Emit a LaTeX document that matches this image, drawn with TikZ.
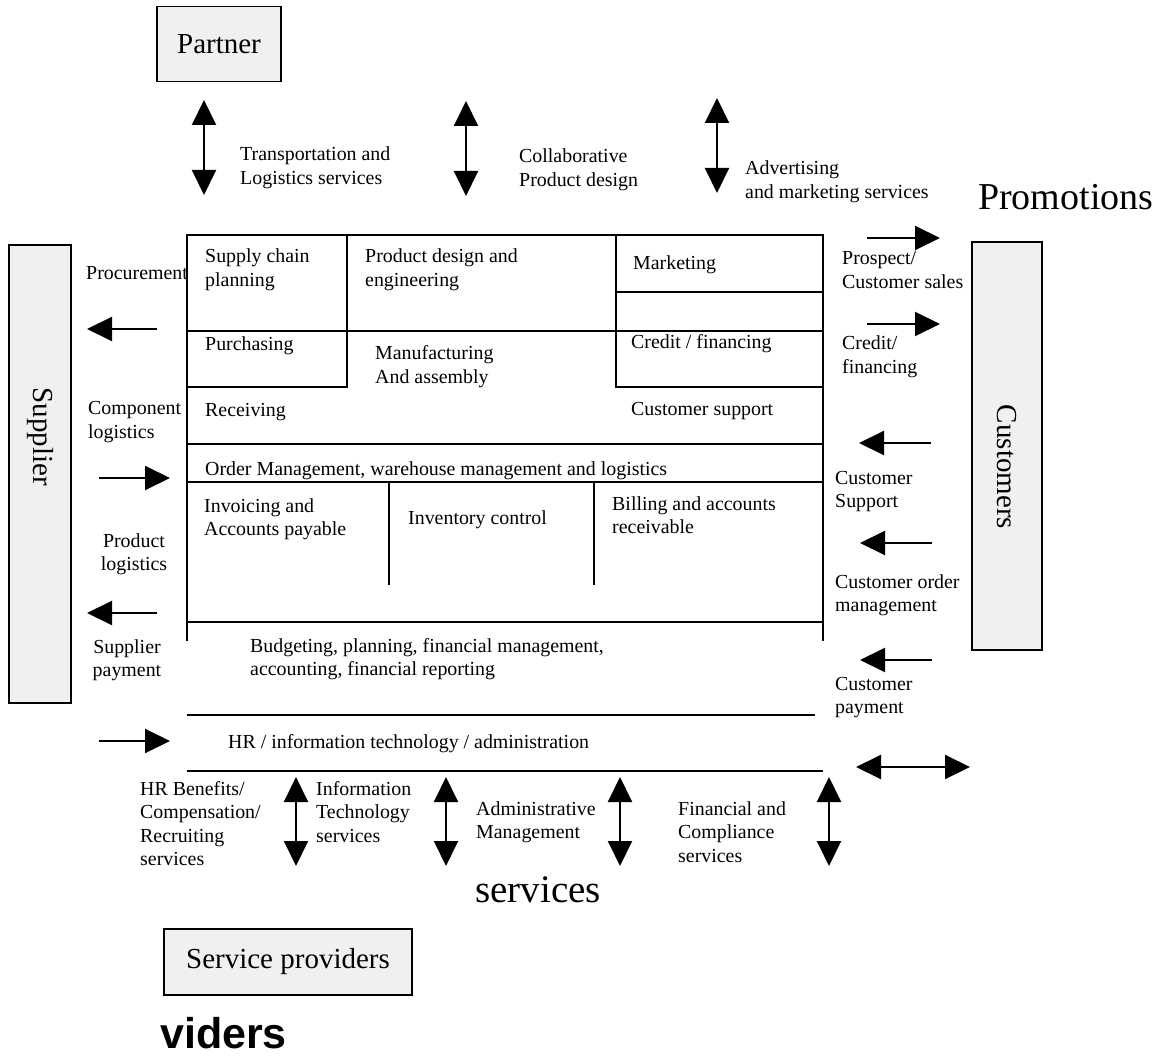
\documentclass[tikz,border=0pt]{standalone}
\usepackage{fontspec}
\setmainfont{Liberation Serif}
\newfontfamily\headsans{Liberation Sans}
\usetikzlibrary{arrows.meta}

% Multi-line text nodes sit on the baseline of their last line.
\tikzset{
  Fat/.tip={Triangle[length=25pt,width=24pt]},
  txt/.style={font=\fontsize{19.9}{23.5}\selectfont, align=left, inner sep=0pt, anchor=base west},
  ctxt/.style={txt, align=center, anchor=base},
  party/.style={draw, line width=1.6pt, fill=black!6, inner sep=0pt},
  partylabel/.style={font=\fontsize{29}{34}\selectfont, inner sep=0pt},
  grid/.style={line width=1.6pt},
  flow/.style={line width=2pt, -Fat},
  both/.style={line width=2pt, Fat-Fat},
  big/.style={font=\fontsize{38}{44}\selectfont, inner sep=0pt, anchor=base west}
}

\begin{document}
\begin{tikzpicture}[x=1pt,y=-1pt]
\useasboundingbox (0,0) rectangle (1168,1064);

% ---- outside parties ----
\node[party, partylabel, minimum width=124pt, minimum height=75pt] (partner) at (219,44) {Partner};
\node[party, minimum width=62pt, minimum height=458pt] (supplier) at (40,474) {};
\node[partylabel, rotate=-90] (supplierlbl) at (40,437) {Supplier};
\node[party, minimum width=70pt, minimum height=408pt] (customers) at (1007,446) {};
\node[partylabel, rotate=-90] (customerslbl) at (1007,467) {Customers};
\node[party, partylabel, minimum width=248pt, minimum height=66pt] (provider) at (288,962) {Service providers};

\node[big] (promo) at (978,210) {Promotions};
\node[big, font=\fontsize{39}{44}\selectfont] (svc) at (475,902) {services};
\node[big, font=\headsans\bfseries\fontsize{43}{48}\selectfont] (viders) at (160,1048) {viders};

% ---- enterprise functions grid ----
\draw[grid] (187,641) -- (187,235) -- (823,235) -- (823,641);
\draw[grid] (347,235) -- (347,387) -- (187,387);
\draw[grid] (187,331) -- (823,331);
\draw[grid] (616,235) -- (616,387) -- (823,387);
\draw[grid] (616,292) -- (823,292);
\draw[grid] (187,444) -- (823,444);
\draw[grid] (187,482) -- (823,482);
\draw[grid] (389,482) -- (389,585);
\draw[grid] (594,482) -- (594,585);
\draw[grid] (187,622) -- (823,622);
\draw[grid] (187,715) -- (815,715);
\draw[grid] (187,771) -- (823,771);

\node[txt] (scp) at (205,286.5) {Supply chain\\planning};
\node[txt] (pde) at (365,286.5) {Product design and\\engineering};
\node[txt] (mkt) at (633,270) {Marketing};
\node[txt] (pur) at (205,351) {Purchasing};
\node[txt] (mfg) at (375,383.5) {Manufacturing\\And assembly};
\node[txt] (crd) at (631,349) {Credit / financing};
\node[txt] (rcv) at (205,417) {Receiving};
\node[txt] (csu) at (631,416) {Customer support};
\node[txt] (ord) at (205,476) {Order Management, warehouse management and logistics};
\node[txt] (inv) at (204,535.5) {Invoicing and\\Accounts payable};
\node[txt] (ictl) at (408,524) {Inventory control};
\node[txt] (bil) at (612,533.5) {Billing and accounts\\receivable};
\node[txt] (bud) at (250,675.5) {Budgeting, planning, financial management,\\accounting, financial reporting};
\node[txt] (hr) at (228,748) {HR / information technology / administration};

% ---- partner flows ----
\coordinate (t1a) at (204,100); \coordinate (t1b) at (204,195);
\coordinate (t2a) at (466,101); \coordinate (t2b) at (466,196);
\coordinate (t3a) at (717,98);  \coordinate (t3b) at (717,193);
\draw[both] (t1a) -- (t1b);
\draw[both] (t2a) -- (t2b);
\draw[both] (t3a) -- (t3b);
\node[txt] (tls) at (240,184.5) {Transportation and\\Logistics services};
\node[txt] (cpd) at (519,186.5) {Collaborative\\Product design};
\node[txt] (ams) at (745,198.5) {Advertising\\and marketing services};

% ---- supplier flows ----
\coordinate (l1a) at (157,329); \coordinate (l1b) at (87,329);
\coordinate (l2a) at (99,478);  \coordinate (l2b) at (170,478);
\coordinate (l3a) at (157,613); \coordinate (l3b) at (87,613);
\coordinate (l4a) at (99,741);  \coordinate (l4b) at (170,741);
\draw[flow] (l1a) -- (l1b);
\draw[flow] (l2a) -- (l2b);
\draw[flow] (l3a) -- (l3b);
\draw[flow] (l4a) -- (l4b);
\node[txt] (proc) at (86,280) {Procurement};
\node[txt] (cl) at (88,438.5) {Component\\logistics};
\node[ctxt] (pl) at (134,570.5) {Product\\logistics};
\node[ctxt] (sp) at (127,676.5) {Supplier\\payment};

% ---- customer flows ----
\coordinate (r1a) at (867,238); \coordinate (r1b) at (940,238);
\coordinate (r2a) at (867,324); \coordinate (r2b) at (940,324);
\coordinate (r3a) at (931,443); \coordinate (r3b) at (859,443);
\coordinate (r4a) at (932,543); \coordinate (r4b) at (860,543);
\coordinate (r5a) at (932,660); \coordinate (r5b) at (860,660);
\coordinate (r6a) at (856,767); \coordinate (r6b) at (970,767);
\draw[flow] (r1a) -- (r1b);
\draw[flow] (r2a) -- (r2b);
\draw[flow] (r3a) -- (r3b);
\draw[flow] (r4a) -- (r4b);
\draw[flow] (r5a) -- (r5b);
\draw[both] (r6a) -- (r6b);
\node[txt] (pcs) at (842,288.5) {Prospect/\\Customer sales};
\node[txt] (cf) at (842,373.5) {Credit/\\financing};
\node[txt] (cs) at (835,507.5) {Customer\\Support};
\node[txt] (com) at (835,611.5) {Customer order\\management};
\node[txt] (cp) at (835,713.5) {Customer\\payment};

% ---- service provider flows ----
\foreach \x [count=\i] in {296,446,620,829} {
  \coordinate (b\i a) at (\x,777);
  \coordinate (b\i b) at (\x,866);
  \draw[both] (b\i a) -- (b\i b);
}
\node[txt] (hrb) at (140,865.5) {HR Benefits/\\Compensation/\\Recruiting\\services};
\node[txt] (its) at (316,842) {Information\\Technology\\services};
\node[txt] (adm) at (476,838.5) {Administrative\\Management};
\node[txt] (fcs) at (678,862) {Financial and\\Compliance\\services};
\end{tikzpicture}
\end{document}
